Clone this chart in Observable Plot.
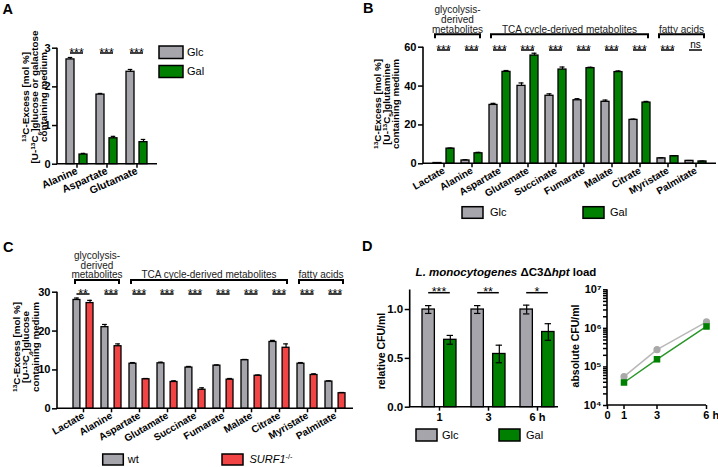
<!DOCTYPE html>
<html><head><meta charset="utf-8">
<script src="https://cdn.jsdelivr.net/npm/d3@7"></script>
<script src="https://cdn.jsdelivr.net/npm/@observablehq/plot@0.6"></script>
<style>
body{margin:0;background:#fff}
#fig{position:relative;width:718px;height:467px;overflow:hidden;background:#fff}
#fig svg{position:absolute;left:0;top:0}
#fig g[aria-label^="x-axis"] line,#fig g[aria-label^="x-axis"] path,#fig g[aria-label^="y-axis"] line,#fig g[aria-label^="y-axis"] path{stroke-width:1.5px}
</style>
</head><body><div id="fig"></div>
<script>
// ---------- data ----------
const metabolites = ["Lactate","Alanine","Aspartate","Glutamate","Succinate","Fumarate","Malate","Citrate","Myristate","Palmitate"];

// Panel A
const aCats = ["Alanine","Aspartate","Glutamate"];
const aGlc = [2.71, 1.80, 2.39];
const aGlcErr = [0.05, 0.03, 0.06];
const aGal = [0.25, 0.67, 0.57];
const aGalErr = [0.03, 0.05, 0.07];
const aSig = ["***","***","***"];
const aTicks = [0, 1, 2, 3];

// Panel B
const bGlc = [0.4, 1.7, 30.3, 40.1, 35.0, 32.7, 31.9, 22.6, 2.8, 1.5];
const bGlcErr = [0.1, 0.4, 0.8, 1.5, 1.0, 0.8, 0.9, 0.4, 0.3, 0.2];
const bGal = [7.8, 5.4, 47.3, 55.7, 48.5, 49.2, 47.2, 31.5, 3.9, 1.2];
const bGalErr = [0.3, 0.5, 0.7, 1.2, 1.3, 0.5, 0.6, 0.6, 0.3, 0.2];
const bSig = ["***","***","***","***","***","***","***","***","***","ns"];
const bTicks = [0, 20, 40, 60];

// Panel C
const cWt = [28.0, 21.0, 11.6, 11.7, 10.6, 11.1, 12.5, 17.2, 11.6, 7.0];
const cWtErr = [0.5, 0.7, 0.3, 0.3, 0.3, 0.2, 0.2, 0.4, 0.3, 0.2];
const cSurf = [27.2, 16.1, 7.6, 6.9, 4.9, 7.5, 8.5, 15.7, 8.7, 4.0];
const cSurfErr = [0.7, 0.6, 0.2, 0.3, 0.5, 0.3, 0.2, 1.0, 0.3, 0.2];
const cSig = ["**","***","***","***","***","***","***","***","***","***"];
const cTicks = [0, 10, 20, 30];

const groups = [
  {from: "Lactate", to: "Alanine", label: ["glycolysis-", "derived", "metabolites"]},
  {from: "Aspartate", to: "Citrate", label: ["TCA cycle-derived metabolites"]},
  {from: "Myristate", to: "Palmitate", label: ["fatty acids"]}
];

// Panel D (left: relative CFU)
const dCats = ["1", "3", "6 h"];
const dGlc = [1.0, 1.0, 1.0];
const dGlcErr = [0.04, 0.04, 0.045];
const dGal = [0.69, 0.545, 0.77];
const dGalErr = [0.045, 0.09, 0.085];
const dSig = ["***", "**", "*"];
const dTicks = [0, 0.5, 1.0];

// Panel D (right: absolute CFU)
const dHours = [1, 3, 6];
const dGlcCFU = [5.6e4, 2.8e5, 1.47e6];
const dGalCFU = [3.95e4, 1.58e5, 1.12e6];
const dGalCFUlo = [3.7e4, 1.36e5, 1.05e6];
const dGalCFUhi = [4.2e4, 1.8e5, 1.2e6];
const dLogTicks = [1e4, 1e5, 1e6, 1e7];

// ---------- styles ----------
const W = 718, H = 467;
const FONT = "'Liberation Sans', Arial, Helvetica, sans-serif";
const GREY = "#a5a5ab", GREEN = "#008000", RED = "#f24444";
const fig = document.getElementById("fig");

function rich(t, str) {
  const parts = str.split(/(\^\{[^}]*\}|_\{[^}]*\}|\*\{[^}]*\})/).filter(s => s);
  for (const p of parts) {
    const m = p.match(/^([\^_*])\{(.*)\}$/);
    if (!m) t.append("tspan").text(p);
    else if (m[1] === "^") t.append("tspan").attr("baseline-shift", "super").attr("font-size", "66%").text(m[2]);
    else if (m[1] === "_") t.append("tspan").attr("baseline-shift", "sub").attr("font-size", "66%").text(m[2]);
    else t.append("tspan").attr("font-style", "italic").text(m[2]);
  }
  return t;
}
function txt(g, x, y, str, o = {}) {
  const t = g.append("text").attr("x", x).attr("y", y)
    .attr("font-size", o.fs || 10).attr("font-weight", o.bold ? "bold" : "normal")
    .attr("text-anchor", o.anchor || "start").attr("fill", o.fill || "#000");
  if (o.dy) t.attr("dy", o.dy);
  return rich(t, str);
}
// rotated axis title lines: visual centre x of first line = cx, spacing sp, lengthwise stretch st
function yLabel(g, lines, cx, cy, fs, sp, st = 1) {
  lines.forEach((s, i) => {
    const t = g.append("text")
      .attr("transform", `translate(${cx + i * sp + fs * 0.36},${cy}) rotate(-90) scale(${st},1)`)
      .attr("text-anchor", "middle").attr("font-size", fs).attr("font-weight", "bold");
    rich(t, s);
  });
}
function legendItem(g, x, y, w, h, color, label, tx, fs) {
  g.append("rect").attr("x", x).attr("y", y).attr("width", w).attr("height", h)
    .attr("fill", color).attr("stroke", "#000").attr("stroke-width", 1.5);
  txt(g, tx, y + h / 2, label, {fs, dy: "0.36em"});
}
function axisLines(g, plot) {
  const xs = plot.scale("x"), ys = plot.scale("y");
  const [x0, x1] = xs.range, [y0, y1] = ys.range;
  g.append("path").attr("d", `M${x0},${y1}V${y0}H${x1}`).attr("fill", "none")
    .attr("stroke", "#000").attr("stroke-width", 1.6);
}

function barPanel(c) {
  const n = c.cats.length;
  const step = (c.r - c.l) / (n - c.pi + 2 * c.po);
  const bw = step * (1 - c.pi);
  const barW = (bw - c.gap) / 2;
  const off = (barW + c.gap) / 2;
  const cap = c.cap || 5.5;
  const rows = c.cats.map((k, i) => ({k, a: c.v1[i], ea: c.e1[i], b: c.v2[i], eb: c.e2[i]}));
  const marks = [
    Plot.barY(rows, {x: "k", y: "a", fill: c.col[0], stroke: "#000", strokeWidth: 1.3, insetRight: bw - barW}),
    Plot.barY(rows, {x: "k", y: "b", fill: c.col[1], stroke: "#000", strokeWidth: 1.3, insetLeft: bw - barW})
  ];
  for (const [v, e, sgn] of [["a", "ea", -1], ["b", "eb", 1]]) {
    const il = bw / 2 + sgn * off - cap / 2, ir = bw / 2 - sgn * off - cap / 2;
    marks.push(Plot.ruleX(rows, {x: "k", y1: d => c.both ? d[v] - d[e] : d[v], y2: d => d[v] + d[e], dx: sgn * off, stroke: "#000", strokeWidth: 1.2}));
    marks.push(Plot.tickY(rows, {x: "k", y: d => d[v] + d[e], insetLeft: il, insetRight: ir, stroke: "#000", strokeWidth: 1.2}));
    if (c.both) marks.push(Plot.tickY(rows, {x: "k", y: d => d[v] - d[e], insetLeft: il, insetRight: ir, stroke: "#000", strokeWidth: 1.2}));
  }
  const plot = Plot.plot({
    width: W, height: H,
    marginLeft: c.l, marginRight: W - c.r, marginTop: c.t, marginBottom: H - c.b,
    style: {background: "transparent", fontFamily: FONT, fontSize: (c.tickFs || 10) + "px", fontWeight: "bold", color: "#000"},
    x: {domain: c.cats, paddingInner: c.pi, paddingOuter: c.po, align: c.align, tickSize: 4, tickPadding: 2, tickRotate: c.rotate, label: null},
    y: {domain: c.yDomain, ticks: c.yTicks, tickFormat: c.yFmt || (d => String(d)), tickSize: 5, tickPadding: 2, label: null},
    marks
  });
  fig.appendChild(plot);
  d3.select(plot).selectAll('g[aria-label^="y-axis"]').attr("font-size", c.yFs || 11);
  const g = d3.select(plot).append("g").attr("font-family", FONT);
  axisLines(g, plot);
  const xs = plot.scale("x");
  const cx = k => xs.apply(k) + xs.bandwidth / 2;
  // significance
  c.cats.forEach((k, i) => {
    const s = c.sig[i];
    const x1 = cx(k) - off, x2 = cx(k) + off;
    g.append("line").attr("x1", x1).attr("x2", x2).attr("y1", c.sigY).attr("y2", c.sigY)
      .attr("stroke", "#000").attr("stroke-width", 1.5);
    txt(g, (x1 + x2) / 2, s === "ns" ? c.sigY - 1.7 : c.sigY + 3.6, s, {fs: s === "ns" ? 10 : 12.5, anchor: "middle"});
  });
  // group brackets
  if (c.groups) {
    for (const gr of c.groups) {
      const x1 = xs.apply(gr.from) + 2, x2 = xs.apply(gr.to) + xs.bandwidth - 2;
      g.append("path").attr("d", `M${x1},${c.brY + 4}V${c.brY}H${x2}V${c.brY + 4}`)
        .attr("fill", "none").attr("stroke", "#000").attr("stroke-width", 2);
      const nl = gr.label.length;
      gr.label.forEach((s, j) => txt(g, (x1 + x2) / 2, c.brY - 1.7 - (nl - 1 - j) * 9.7, s, {fs: 10, anchor: "middle", fill: "#1a1a1a"}));
    }
  }
  return {plot, g};
}

// ---------- Panel A ----------
{
  const {g} = barPanel({cats: aCats, v1: aGlc, e1: aGlcErr, v2: aGal, e2: aGalErr, sig: aSig, col: [GREY, GREEN],
    l: 57, r: 157, t: 47.7, b: 163.7, yDomain: [0, 3], yTicks: aTicks, pi: 0.285, po: 0.268, align: 0.5, gap: 4,
    rotate: -24, sigY: 53, tickFs: 10.5, yFs: 11});
  legendItem(g, 159, 46, 24, 12.5, GREY, "Glc", 187, 11);
  legendItem(g, 159, 65.5, 24, 12, GREEN, "Gal", 187, 11);
  yLabel(g, ["^{13}C-Excess [mol %]", "[U-^{13}C_{6}]glucose or galactose", "containing medium"], 25.5, 97, 8.8, 9.3, 1.12);
  txt(g, 2.5, 13.5, "A", {fs: 14.5, bold: true});
}

// ---------- Panel B ----------
{
  const {g} = barPanel({cats: metabolites, v1: bGlc, e1: bGlcErr, v2: bGal, e2: bGalErr, sig: bSig, col: [GREY, GREEN],
    l: 423, r: 716, t: 46.7, b: 163.3, yDomain: [0, 60], yTicks: bTicks, pi: 0.25, po: 0.235, align: 0.5, gap: 4.5,
    rotate: -30, sigY: 50, groups, brY: 34.3, yFs: 11});
  legendItem(g, 462, 206.7, 21, 11.6, GREY, "Glc", 490, 11);
  legendItem(g, 583, 206.7, 21, 11.6, GREEN, "Gal", 610, 11);
  yLabel(g, ["^{13}C-Excess [mol %]", "[U-^{13}C_{5}]glutamine", "containing medium"], 377.5, 104, 8.8, 9, 1.12);
  txt(g, 363, 12.7, "B", {fs: 14.5, bold: true});
}

// ---------- Panel C ----------
{
  const {g} = barPanel({cats: metabolites, v1: cWt, e1: cWtErr, v2: cSurf, e2: cSurfErr, sig: cSig, col: [GREY, RED],
    l: 57, r: 353, t: 291.7, b: 408.3, yDomain: [0, 30], yTicks: cTicks, pi: 0.276, po: 0.313, align: 0.685, gap: 5.5,
    rotate: -30, sigY: 294, groups, brY: 280, yFs: 11});
  legendItem(g, 102.7, 454, 20.6, 11, GREY, "wt", 127.7, 11);
  legendItem(g, 222, 454, 21, 11, RED, "*{SURF1}^{-/-}", 249.5, 11);
  yLabel(g, ["^{13}C-Excess [mol %]", "[U-^{13}C_{6}]glucose", "containing medium"], 17, 347, 8.8, 9.2, 1.12);
  txt(g, 3, 251.7, "C", {fs: 14.5, bold: true});
}

// ---------- Panel D left ----------
{
  const {g} = barPanel({cats: dCats, v1: dGlc, e1: dGlcErr, v2: dGal, e2: dGalErr, sig: dSig, col: [GREY, GREEN],
    l: 409.7, r: 558, t: 289.5, b: 406.7, yDomain: [0, 1.2], yTicks: dTicks, yFmt: d3.format(".1f"),
    pi: 0.305, po: 0.143, align: 0.74, gap: 8.7, rotate: 0, sigY: 292.7, both: true, cap: 7, tickFs: 11, yFs: 11.5});
  legendItem(g, 416, 429, 21, 12, GREY, "Glc", 442, 11);
  legendItem(g, 499, 429, 21, 12, GREEN, "Gal", 526, 11);
  yLabel(g, ["relative CFU/ml"], 381.3, 351, 10.5, 0);
  txt(g, 506, 276, "*{L. monocytogenes} ΔC3Δ*{hpt} load", {fs: 11.5, bold: true, anchor: "middle"});
  txt(g, 362, 250.7, "D", {fs: 14.5, bold: true});
}

// ---------- Panel D right ----------
{
  const supDigits = {"0":"⁰","1":"¹","2":"²","3":"³","4":"⁴","5":"⁵","6":"⁶","7":"⁷","8":"⁸","9":"⁹"};
  const minor = [];
  for (let e = 4; e < 7; e++) for (let m = 2; m <= 9; m++) minor.push(m * 10 ** e);
  const glcRows = dHours.map((h, i) => ({h, v: dGlcCFU[i]}));
  const galRows = dHours.map((h, i) => ({h, v: dGalCFU[i], lo: dGalCFUlo[i], hi: dGalCFUhi[i]}));
  const plot = Plot.plot({
    width: W, height: H, marginLeft: 607, marginRight: W - 706, marginTop: 289.3, marginBottom: H - 405,
    style: {background: "transparent", fontFamily: FONT, fontSize: "11px", fontWeight: "bold", color: "#000"},
    x: {domain: [0, 6], ticks: [0, 1, 3, 6], tickFormat: d => d === 6 ? "6 h" : String(d), tickSize: 4, tickPadding: 2, label: null},
    y: {type: "log", domain: [1e4, 1e7], ticks: [...dLogTicks, ...minor],
        tickFormat: d => dLogTicks.includes(d) ? "10" + String(Math.round(Math.log10(d))).split("").map(ch => supDigits[ch]).join("") : "",
        tickSize: 4, tickPadding: 2, label: null},
    marks: [
      Plot.line(glcRows, {x: "h", y: "v", stroke: "#b8b8b8", strokeWidth: 1.5}),
      Plot.line(galRows, {x: "h", y: "v", stroke: "#2a962a", strokeWidth: 1.5}),
      Plot.ruleX(galRows, {x: "h", y1: "lo", y2: "hi", stroke: "#000", strokeWidth: 1}),
      Plot.dot(glcRows, {x: "h", y: "v", fill: "#a9a9a9", r: 3.6}),
      Plot.dot(galRows, {x: "h", y: "v", fill: GREEN, symbol: "square", r: 3.7})
    ]
  });
  fig.appendChild(plot);
  const g = d3.select(plot).append("g").attr("font-family", FONT);
  axisLines(g, plot);
  d3.select(plot).selectAll("text").filter(function () { return this.textContent === "6 h"; })
    .attr("text-anchor", "start").attr("dx", "-0.3em");
  yLabel(g, ["absolute CFU/ml"], 575, 346, 10.5, 0);
}
</script>
</body></html>
